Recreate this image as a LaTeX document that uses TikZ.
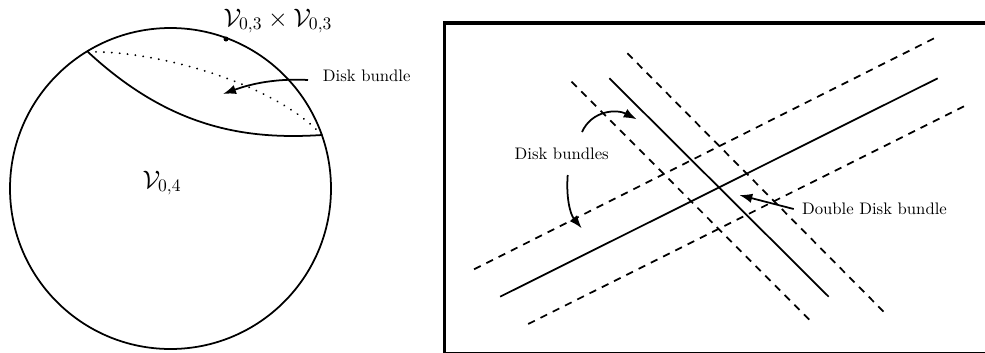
\documentclass[tikz,border=0pt]{standalone}
\usepackage{amsmath}
\usetikzlibrary{arrows.meta,positioning}

\begin{document}
\begin{tikzpicture}[x=0.2mm, y=0.2mm,
  curve/.style={line width=1pt},
  fibre/.style={line width=1pt, dash pattern=on 4.2pt off 3.6pt},
  dotcurve/.style={line width=1.1pt, dash pattern=on 0.1pt off 4.4pt, line cap=round},
  frame/.style={line width=1.8pt},
  pointer/.style={line width=1pt, -{Latex[length=2.6mm, width=1.9mm]}},
  lbl/.style={font=\fontsize{9.5}{11}\selectfont, inner sep=0pt},
  mathlbl/.style={font=\Large, inner sep=0pt},
  spot/.style={circle, fill, inner sep=0pt, minimum size=1mm},
]
\useasboundingbox (0,0) rectangle (985,352);

% Left: the sphere
\draw[curve] (170.5,163.5) circle[radius=32.1mm];
\node[spot] (pt) at (226,313) {};
\node[mathlbl] (prod) at (278,331) {$\mathcal{V}_{0,3}\times\mathcal{V}_{0,3}$};
\node[mathlbl] (v04) at (162,169) {$\mathcal{V}_{0,4}$};

\coordinate (p) at (88,300);
\coordinate (q) at (322,217);
\draw[curve] (p) .. controls (170,224) and (245,212) .. (q);
\draw[dotcurve] (p) .. controls (150,302) and (270,272) .. (q);

% Disk bundle label
\node[lbl] (bundle) at (366.7,276) {Disk bundle};
\coordinate (bundletail) at (308,272);
\coordinate (bundletip) at (223,258);
\draw[pointer] (bundletail) .. controls (270,274) and (245,266) .. (bundletip);

% Right: the two bundles, frame runs off the page
\draw[frame] (990,329) -- (444.5,329) -- (444.5,-1.6) -- (990,-1.6);

\draw[curve] (500.1,55.3) -- (937.7,273.7);
\draw[curve] (609.4,273.7) -- (828.7,55.3);

\draw[fibre] (474.1,82.7) -- (934.1,313.7);
\draw[fibre] (528.2,28) -- (964.7,246);
\draw[fibre] (571.5,270.3) -- (811.4,30.3);
\draw[fibre] (627.4,298.7) -- (883.6,40.3);

% Disk bundles label
\node[lbl] (bundles) at (561.7,198) {Disk bundles};
\coordinate (uptail) at (582,220);
\coordinate (uptip) at (636.7,232.7);
\coordinate (lowtail) at (567.7,177);
\coordinate (lowtip) at (581.7,123.7);
\draw[pointer] (uptail) .. controls (592,242) and (617,243) .. (uptip);
\draw[pointer] (lowtail) .. controls (566,155) and (570,138) .. (lowtip);

% Double Disk bundle label
\node[lbl, anchor=west] (double) at (801.7,143) {Double Disk bundle};
\coordinate (doubletip) at (739.3,157);
\draw[pointer] ([xshift=-1.6mm]double.west) -- (doubletip);

\end{tikzpicture}
\end{document}
